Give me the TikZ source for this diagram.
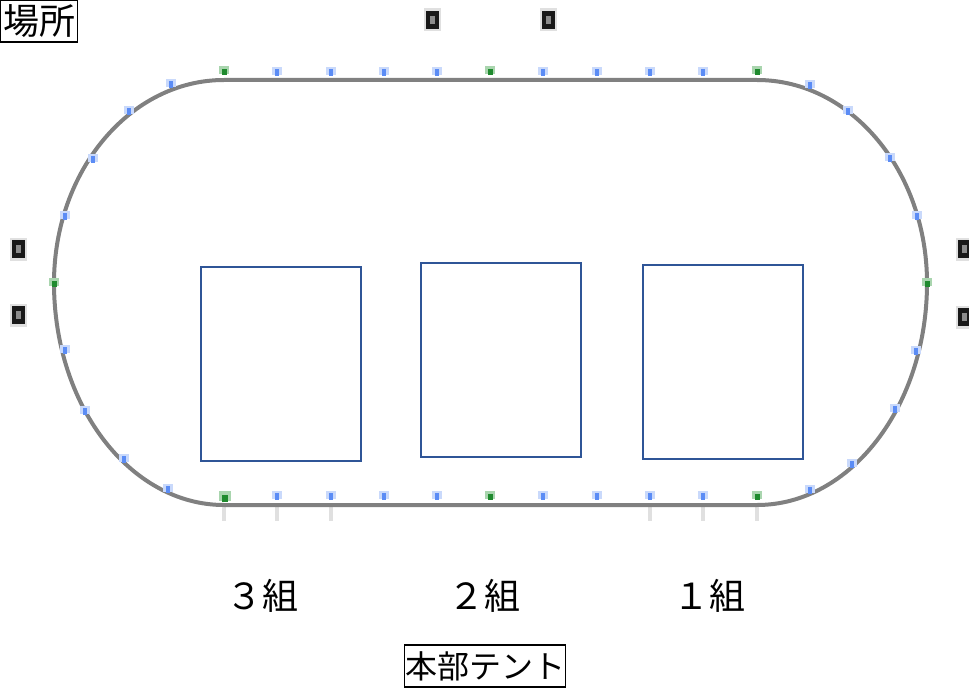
\documentclass[tikz,border=0pt]{standalone}
\usepackage{fontspec}
\newfontfamily\jpfont{Noto Sans CJK JP}[Scale=1]
\definecolor{trackgray}{HTML}{808080}
\definecolor{zoneblue}{HTML}{2F5597}
\definecolor{markblue}{HTML}{5B8CF5}
\definecolor{markhalo}{HTML}{C9D9FB}
\definecolor{markgreen}{HTML}{1F8A2E}
\definecolor{greenhalo}{HTML}{A9D5AE}
\tikzset{
  x=0.75pt,y=-0.75pt,
  zone/.style={draw=zoneblue,line width=1.5pt,fill=white},
  track/.style={draw=trackgray,line width=3pt},
  tick/.style={draw=black!12,line width=2.6pt},
  grouplabel/.style={font=\jpfont\fontsize{27}{27}\selectfont,inner sep=0pt,anchor=center},
  boxlabel/.style={draw=black,line width=0.9pt,inner sep=0pt,minimum height=31.5pt},
  post/.pic={
    \fill[black!12] (-8.5,-11.5) rectangle (8.5,11.5);
    \fill[black!90] (-6.5,-9) rectangle (6.5,9);
    \fill[black!45] (-2.5,-4) rectangle (2.5,4);
  },
  bluemark/.pic={
    \fill[markhalo] (-5,-5) rectangle (5,3);
    \fill[markblue] (-2,-3) rectangle (2,4);
  },
  greenmark/.pic={
    \fill[greenhalo] (-5,-5) rectangle (5,3);
    \fill[markgreen] (-2.5,-2) rectangle (2.5,4);
  },
}
\begin{document}
\begin{tikzpicture}
\useasboundingbox (0,0) rectangle (969,688);
% faint ticks below the bottom straight
\foreach \x in {224,277,331,650,703,757}
  \draw[tick] (\x,507) -- (\x,521);
% track
\draw[track] (224,80) -- (757,80)
  arc[start angle=-90,end angle=0,x radius=170,y radius=203]
  arc[start angle=0,end angle=90,x radius=170,y radius=222]
  -- (224,505)
  arc[start angle=90,end angle=180,x radius=170,y radius=222]
  arc[start angle=180,end angle=270,x radius=170,y radius=203]
  -- cycle;
% markers
\foreach \x in {277,331,384,437,543,597,650,703}{
  \pic at (\x,72) {bluemark};
  \pic at (\x,496) {bluemark};
}
\foreach \x/\y in {171/84,129/111,93/159,65/216,65/350,85/411,124/459,168/489,810/85,848/111,890/158,917/216,916/351,895/409,852/464,810/490}
  \pic at (\x,\y) {bluemark};
\foreach \x/\y in {224/71,490/71,757/71,490/496,757/496,54/283,927/283}
  \pic at (\x,\y) {greenmark};
\pic[scale=1.25] at (225,497) {greenmark};
% posts
\foreach \x/\y in {432/20,548/20,18/249,18/315,964/249,964/317}
  \pic at (\x,\y) {post};
% zones
\draw[zone] (201,267) rectangle (361,461);
\draw[zone] (421,263) rectangle (581,457);
\draw[zone] (643,265) rectangle (803,459);
% labels
\node[grouplabel] (g3) at (262,596) {３組};
\node[grouplabel] (g2) at (484,596) {２組};
\node[grouplabel] (g1) at (709,596) {１組};
\node[boxlabel,minimum width=121pt,font=\jpfont\fontsize{24}{24}\selectfont] (hq) at (485,666) {本部テント};
\node[boxlabel,minimum width=58pt,font=\jpfont\fontsize{27}{27}\selectfont] (place) at (39,21) {場所};
\end{tikzpicture}
\end{document}
